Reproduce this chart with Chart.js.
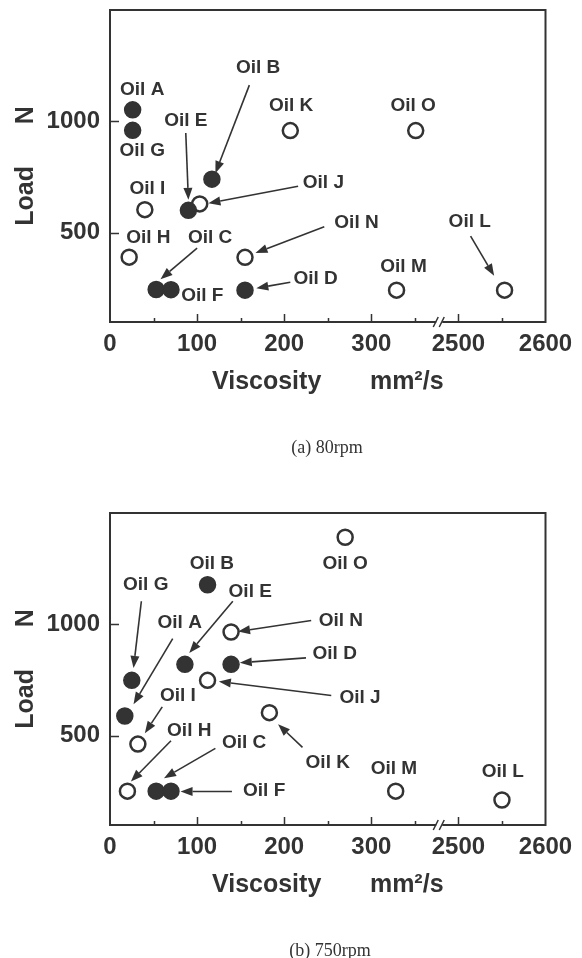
<!DOCTYPE html>
<html>
<head>
<meta charset="utf-8">
<script src="https://cdn.jsdelivr.net/npm/chart.js@4.4.1/dist/chart.umd.min.js"></script>
<style>
  body { margin: 0; background: #fff; width: 582px; height: 958px; overflow: hidden; position: relative; }
  canvas { position: absolute; left: 0; }
  #c80 { top: 0; }
  #c750 { top: 503px; }
  .cap { position: absolute; font-family: "Liberation Serif", serif; font-size: 18px; color: #333;
         transform: translate(-50%, -50%); white-space: nowrap; }
</style>
</head>
<body>
<canvas id="c80" width="582" height="455"></canvas>
<canvas id="c750" width="582" height="455"></canvas>
<div class="cap" style="left:327px; top:447px">(a) 80rpm</div>
<div class="cap" style="left:330px; top:950px">(b) 750rpm</div>
<script>
// oils A..O, A-G drawn filled, H-O open
var oils = ['A','B','C','D','E','F','G','H','I','J','K','L','M','N','O'];
var filled = [true,true,true,true,true,true,true,false,false,false,false,false,false,false,false];

// (a) 80 rpm : viscosity mm2/s, load N
var visc80 = [26, 117, 53, 155, 90, 70, 26, 22, 40, 103, 207, 2553, 329, 155, 351];
var load80 = [1052, 741, 246, 243, 601, 245, 960, 391, 604, 630, 959, 243, 243, 390, 959];

// (b) 750 rpm
var visc750 = [17, 112, 53, 139, 86, 70, 25, 20, 32, 112, 183, 2550, 328, 139, 270];
var load750 = [589, 1178, 252, 821, 821, 252, 749, 252, 463, 749, 604, 212, 252, 966, 1391];

// axis ticks (axis is broken between 350 and 2500)
var xTickValues = [0, 100, 200, 300, 400, 500];
var xTickLabels = ['0', '100', '200', '300', '2500', '2600'];
var yTickValues = [500, 1000];

// where the "Oil X" labels sit (viscosity, load)
var lab80 = {
  A: [37, 1140], B: [170, 1240], C: [115, 479], D: [236, 293], E: [87, 1004],
  F: [106, 216], G: [37, 867], H: [44, 479], I: [43, 697], J: [245, 726],
  K: [208, 1071], L: [2513, 549], M: [337, 349], N: [283, 544], O: [348, 1071]
};
var arrows80 = {
  B: [160, 1163, 121, 768], C: [100, 431, 58, 292], D: [207, 278, 168, 252],
  E: [87, 948, 90, 648], J: [216, 709, 113, 633], N: [246, 527, 167, 410],
  L: [2514, 485, 2541, 307]
};
var lab750 = {
  A: [80, 1006], B: [117, 1272], C: [154, 468], D: [258, 870], E: [161, 1148],
  F: [177, 252], G: [41, 1176], H: [91, 525], I: [78, 678], J: [287, 670],
  K: [250, 379], L: [2551, 337], M: [326, 352], N: [265, 1018], O: [270, 1272]
};
var arrows750 = {
  G: [36, 1104, 27, 805], E: [141, 1104, 91, 872], A: [72, 936, 27, 642],
  N: [231, 1018, 147, 968], D: [225, 850, 149, 828], J: [254, 681, 125, 744],
  I: [60, 630, 40, 512], H: [70, 478, 24, 295], C: [121, 444, 62, 310],
  K: [221, 448, 193, 552], F: [140, 250, 81, 250]
};

var ink = '#333';
var sans = '"Liberation Sans", Arial, sans-serif';

// values past the break are shifted down so 2500 sits where 400 would
function axisX(v) { return v > 1000 ? v - 2100 : v; }

function makeFrame(labels, arrows) {
  return {
    id: 'frame',
    afterDatasetsDraw: function(chart) {
      var ctx = chart.ctx, a = chart.chartArea;
      var xs = chart.scales.x, ys = chart.scales.y;
      ctx.save();
      ctx.strokeStyle = ink;
      ctx.fillStyle = ink;
      ctx.lineWidth = 2;
      ctx.strokeRect(a.left, a.top, a.right - a.left, a.bottom - a.top);

      // inward tick marks
      ctx.lineWidth = 1.5;
      ctx.beginPath();
      for (var v = 50; v < 500; v += 50) {
        var px = Math.round(xs.getPixelForValue(v)) + 0.5;
        var len = v % 100 === 0 ? 8 : 4;
        ctx.moveTo(px, a.bottom);
        ctx.lineTo(px, a.bottom - len);
      }
      yTickValues.forEach(function(t) {
        var py = Math.round(ys.getPixelForValue(t)) + 0.5;
        ctx.moveTo(a.left, py);
        ctx.lineTo(a.left + 9, py);
      });
      ctx.stroke();

      // axis break
      var bx = xs.getPixelForValue(378);
      ctx.fillStyle = '#fff';
      ctx.fillRect(bx - 3, a.bottom - 3, 6, 6);
      ctx.fillStyle = ink;
      ctx.beginPath();
      ctx.moveTo(bx - 6, a.bottom + 5); ctx.lineTo(bx - 1, a.bottom - 5);
      ctx.moveTo(bx, a.bottom + 5); ctx.lineTo(bx + 5, a.bottom - 5);
      ctx.stroke();

      // arrows
      ctx.lineWidth = 1.6;
      Object.keys(arrows).forEach(function(k) {
        var r = arrows[k];
        var x1 = xs.getPixelForValue(axisX(r[0])), y1 = ys.getPixelForValue(r[1]);
        var x2 = xs.getPixelForValue(axisX(r[2])), y2 = ys.getPixelForValue(r[3]);
        var ang = Math.atan2(y2 - y1, x2 - x1);
        var hl = 12, hw = 4.5;
        var bxh = x2 - hl * Math.cos(ang), byh = y2 - hl * Math.sin(ang);
        ctx.beginPath();
        ctx.moveTo(x1, y1);
        ctx.lineTo(bxh, byh);
        ctx.stroke();
        ctx.beginPath();
        ctx.moveTo(x2, y2);
        ctx.lineTo(bxh + hw * Math.sin(ang), byh - hw * Math.cos(ang));
        ctx.lineTo(bxh - hw * Math.sin(ang), byh + hw * Math.cos(ang));
        ctx.closePath();
        ctx.fill();
      });

      // labels
      ctx.font = 'bold 19px ' + sans;
      ctx.textAlign = 'center';
      ctx.textBaseline = 'middle';
      Object.keys(labels).forEach(function(k) {
        var p = labels[k];
        ctx.fillText('Oil ' + k, xs.getPixelForValue(axisX(p[0])), ys.getPixelForValue(p[1]));
      });
      ctx.restore();
    }
  };
}

function points(visc, load, wantFilled) {
  var out = [];
  oils.forEach(function(o, i) {
    if (filled[i] === wantFilled) out.push({ x: axisX(visc[i]), y: load[i] });
  });
  return out;
}

function buildChart(id, visc, load, labels, arrows) {
  return new Chart(document.getElementById(id), {
    type: 'scatter',
    data: {
      datasets: [{
        label: 'filled',
        data: points(visc, load, true),
        pointRadius: 8,
        pointBackgroundColor: ink,
        pointBorderColor: ink,
        pointBorderWidth: 1.5
      }, {
        label: 'open',
        data: points(visc, load, false),
        pointRadius: 7.5,
        pointBackgroundColor: '#fff',
        pointBorderColor: ink,
        pointBorderWidth: 2.5
      }]
    },
    options: {
      responsive: false,
      animation: false,
      layout: { padding: { left: 0, right: 36.5, top: 10, bottom: 43 } },
      plugins: { legend: { display: false }, tooltip: { enabled: false } },
      scales: {
        x: {
          type: 'linear', min: 0, max: 500,
          afterFit: function(s) { s.height = 90; s.paddingLeft = 0; s.paddingRight = 0; },
          afterBuildTicks: function(s) { s.ticks = xTickValues.map(function(v) { return { value: v }; }); },
          grid: { display: false, drawTicks: false },
          border: { display: false },
          ticks: {
            color: ink, padding: 8, maxRotation: 0, autoSkip: false,
            font: { family: sans, size: 24, weight: 'bold' },
            callback: function(v) { return xTickLabels[xTickValues.indexOf(v)]; }
          },
          title: {
            display: true, text: 'Viscosity       mm²/s', color: ink,
            font: { family: sans, size: 25, weight: 'bold' },
            padding: { top: 0, bottom: 15 }
          }
        },
        y: {
          min: 100, max: 1500,
          afterFit: function(s) { s.width = 110; s.paddingTop = 0; s.paddingBottom = 0; },
          afterBuildTicks: function(s) { s.ticks = yTickValues.map(function(v) { return { value: v }; }); },
          grid: { display: false, drawTicks: false },
          border: { display: false },
          ticks: {
            color: ink, padding: 10,
            font: { family: sans, size: 24, weight: 'bold' },
            callback: function(v) { return String(v); }
          },
          title: {
            display: true, text: 'Load      N', color: ink,
            font: { family: sans, size: 25, weight: 'bold' },
            padding: { top: 11, bottom: 0 }
          }
        }
      }
    },
    plugins: [makeFrame(labels, arrows)]
  });
}

buildChart('c80', visc80, load80, lab80, arrows80);
buildChart('c750', visc750, load750, lab750, arrows750);
</script>
</body>
</html>
